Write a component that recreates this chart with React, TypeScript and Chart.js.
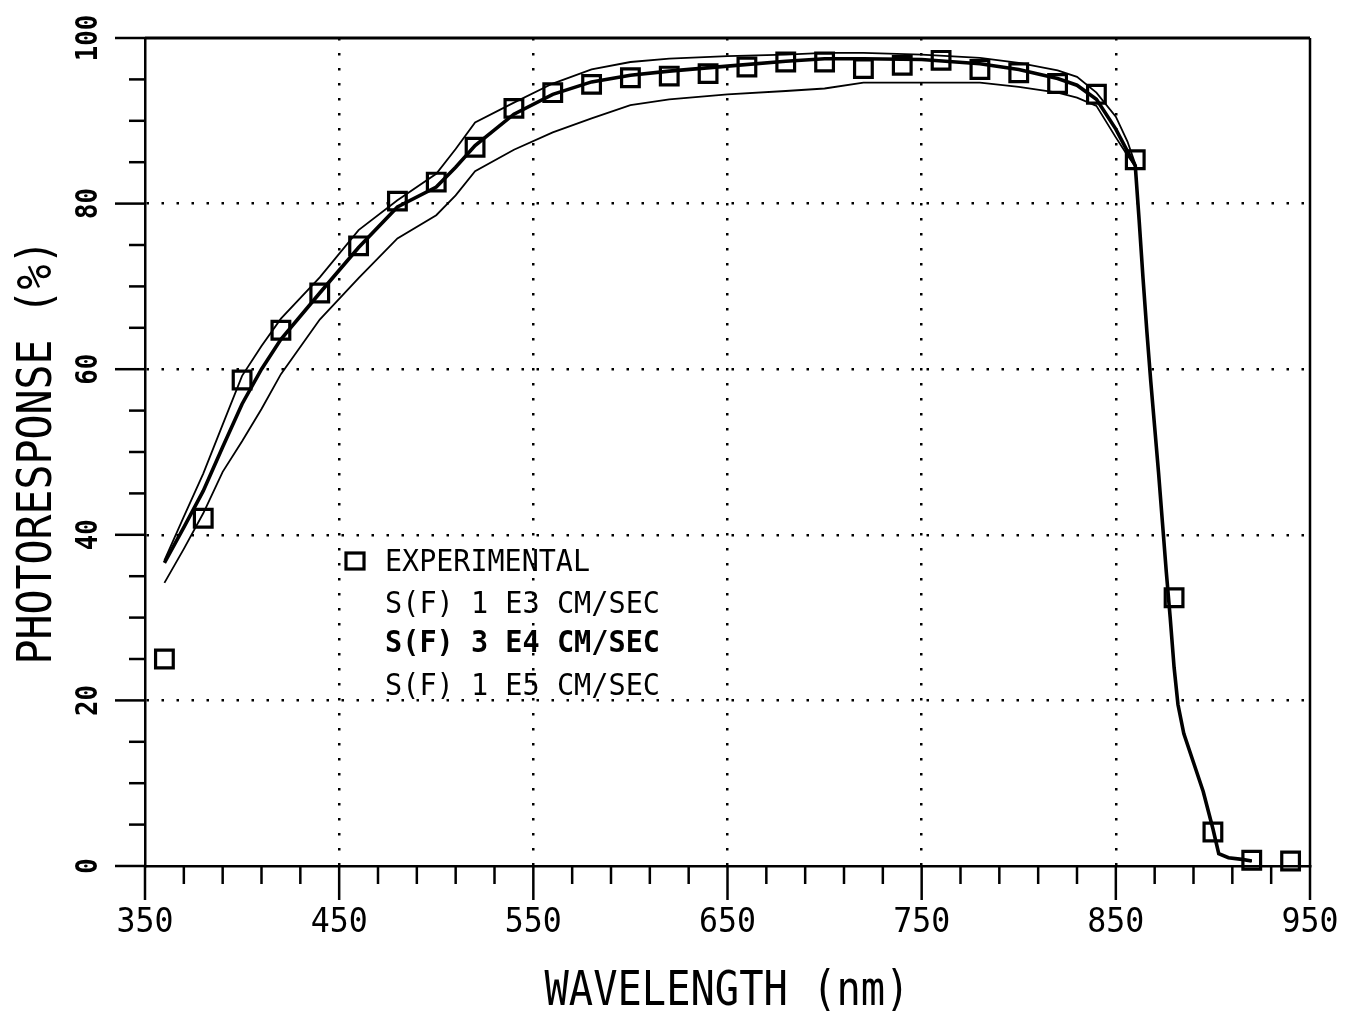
import React, { useEffect, useRef } from "react";
import { Chart, registerables } from "chart.js";

Chart.register(...registerables);

// ---- Data ----
const expWavelengths = [360, 380, 400, 420, 440, 460, 480, 500, 520, 540, 560, 580, 600, 620, 640, 660, 680, 700, 720, 740, 760, 780, 800, 820, 840, 860, 880, 900, 920, 940];
const expValues = [25.0, 42.0, 58.7, 64.7, 69.2, 74.9, 80.3, 82.6, 86.8, 91.5, 93.4, 94.4, 95.2, 95.4, 95.7, 96.5, 97.1, 97.1, 96.3, 96.7, 97.3, 96.2, 95.8, 94.5, 93.2, 85.3, 32.4, 4.1, 0.7, 0.6];

const lineWavelengths = [360, 370, 380, 390, 400, 410, 420, 440, 460, 480, 500, 510, 520, 540, 560, 580, 600, 620, 650, 680, 700, 720, 750, 780, 800, 820, 830, 840, 850, 856, 860];
const sf1e3Values = [36.9, 42.2, 47.4, 53.3, 59.2, 62.8, 66.1, 71.1, 76.8, 80.4, 83.6, 86.6, 89.8, 92.2, 94.5, 96.2, 97.1, 97.5, 97.8, 98.0, 98.2, 98.2, 98.0, 97.6, 97.0, 96.1, 95.3, 93.4, 90.5, 87.5, 84.8];
const sf3e4Values = [36.6, 40.9, 45.3, 50.6, 55.8, 60.0, 63.6, 69.2, 74.7, 79.6, 82.0, 84.4, 87.0, 90.8, 93.2, 94.7, 95.5, 96.0, 96.6, 97.2, 97.5, 97.5, 97.4, 96.9, 96.2, 95.1, 94.3, 92.6, 89.0, 86.3, 84.6];
const sf1e5Values = [34.2, 38.3, 42.6, 47.6, 51.3, 55.2, 59.4, 66.0, 71.0, 75.8, 78.6, 81.0, 83.9, 86.5, 88.6, 90.3, 91.9, 92.6, 93.2, 93.6, 93.9, 94.6, 94.6, 94.6, 94.1, 93.4, 92.8, 91.8, 88.0, 85.8, 84.5];

// common fall-off (all three curves coincide)
const cutoffWavelengths = [862, 864, 866, 868, 870, 872, 874, 876, 878, 880, 882, 885, 890, 895, 900, 903, 908, 915, 920];
const cutoffValues = [78, 71, 64.5, 58.5, 53, 47.5, 41.5, 35.5, 30, 24, 19.5, 16, 12.5, 9, 4.5, 1.5, 1.0, 0.8, 0.6];

const xTickValues = [350, 370, 390, 410, 430, 450, 470, 490, 510, 530, 550, 570, 590, 610, 630, 650, 670, 690, 710, 730, 750, 770, 790, 810, 830, 850, 870, 890, 910, 930, 950];
const xMajorValues = [350, 450, 550, 650, 750, 850, 950];
const xTickLabels = ["350", "450", "550", "650", "750", "850", "950"];
const xGridValues = [450, 550, 650, 750, 850];

const yTickValues = [0, 5, 10, 15, 20, 25, 30, 35, 40, 45, 50, 55, 60, 65, 70, 75, 80, 85, 90, 95, 100];
const yMajorValues = [0, 20, 40, 60, 80, 100];
const yTickLabels = ["0", "20", "40", "60", "80", "100"];
const yGridValues = [20, 40, 60, 80];

const legendLabels = ["EXPERIMENTAL", "S(F) 1 E3 CM/SEC", "S(F) 3 E4 CM/SEC", "S(F) 1 E5 CM/SEC"];
const xTitle = "WAVELENGTH (nm)";
const yTitle = "PHOTORESPONSE (%)";

const FONT = '"DejaVu Sans Mono", "Liberation Mono", monospace';

function curve(values: number[]) {
  const pts = lineWavelengths.map((x, i) => ({ x, y: values[i] }));
  return pts.concat(cutoffWavelengths.map((x, i) => ({ x, y: cutoffValues[i] })));
}

function drawLabel(
  ctx: CanvasRenderingContext2D,
  text: string,
  x: number,
  cy: number,
  cap: number,
  width: number,
  align: "left" | "center",
  rotate = false,
  bold = false
) {
  const size = cap / 0.73;
  ctx.save();
  ctx.font = `${bold ? "bold " : ""}${size}px ${FONT}`;
  const w = ctx.measureText(text).width;
  const sx = width / w;
  ctx.translate(x, cy);
  if (rotate) ctx.rotate(-Math.PI / 2);
  ctx.scale(sx, 1);
  ctx.textAlign = align;
  ctx.textBaseline = "alphabetic";
  ctx.fillStyle = "#000";
  ctx.fillText(text, 0, cap / 2);
  ctx.restore();
}

const decorPlugin = {
  id: "decor",
  afterDraw(chart: any) {
    const ctx: CanvasRenderingContext2D = chart.ctx;
    const xs = chart.scales.x;
    const ys = chart.scales.y;
    const { left, right, top, bottom } = chart.chartArea;
    ctx.save();
    ctx.strokeStyle = "#000";
    ctx.lineCap = "butt";
    // frame top / right
    ctx.lineWidth = 3;
    ctx.beginPath();
    ctx.moveTo(left, top);
    ctx.lineTo(right, top);
    ctx.stroke();
    ctx.lineWidth = 2.5;
    ctx.beginPath();
    ctx.moveTo(right, top);
    ctx.lineTo(right, bottom);
    ctx.stroke();

    // x ticks
    ctx.lineWidth = 2.5;
    xTickValues.forEach((v) => {
      const px = xs.getPixelForValue(v);
      const len = xMajorValues.includes(v) ? 34 : 18;
      ctx.beginPath();
      ctx.moveTo(px, bottom);
      ctx.lineTo(px, bottom + len);
      ctx.stroke();
    });
    // y ticks
    yTickValues.forEach((v) => {
      const py = ys.getPixelForValue(v);
      const len = yMajorValues.includes(v) ? 30 : 16;
      ctx.beginPath();
      ctx.moveTo(left - len, py);
      ctx.lineTo(left, py);
      ctx.stroke();
    });
    ctx.restore();

    // tick labels
    xMajorValues.forEach((v, i) => {
      drawLabel(ctx, xTickLabels[i], xs.getPixelForValue(v), 919, 25, 19 * xTickLabels[i].length, "center");
    });
    yMajorValues.forEach((v, i) => {
      drawLabel(ctx, yTickLabels[i], 86, ys.getPixelForValue(v), 22, 15.5 * yTickLabels[i].length, "center", true, true);
    });

    // axis titles
    drawLabel(ctx, xTitle, 727, 987, 35, 365, "center");
    drawLabel(ctx, yTitle, 33, 452, 35, 425, "center", true);

    // legend
    ctx.save();
    ctx.lineWidth = 3.2;
    ctx.strokeStyle = "#000";
    ctx.strokeRect(346, 553, 18, 16);
    ctx.restore();
    drawLabel(ctx, legendLabels[0], 385, 560, 22, 205, "left");
    drawLabel(ctx, legendLabels[1], 385, 602, 22, 275, "left");
    drawLabel(ctx, legendLabels[2], 385, 641, 22, 275, "left", false, true);
    drawLabel(ctx, legendLabels[3], 385, 684, 22, 275, "left");
  },
};

export default function App() {
  const ref = useRef<HTMLCanvasElement | null>(null);
  useEffect(() => {
    if (!ref.current) return;
    const chart = new Chart(ref.current, {
      type: "line",
      data: {
        datasets: [
          {
            label: legendLabels[1],
            data: curve(sf1e3Values),
            borderColor: "#000",
            borderWidth: 1.8,
            pointRadius: 0,
            tension: 0,
          },
          {
            label: legendLabels[2],
            data: curve(sf3e4Values),
            borderColor: "#000",
            borderWidth: 3.6,
            pointRadius: 0,
            tension: 0,
          },
          {
            label: legendLabels[3],
            data: curve(sf1e5Values),
            borderColor: "#000",
            borderWidth: 1.8,
            pointRadius: 0,
            tension: 0,
          },
          {
            label: legendLabels[0],
            data: expWavelengths.map((x, i) => ({ x, y: expValues[i] })),
            showLine: false,
            pointStyle: "rect",
            pointRadius: 12.5,
            pointBorderWidth: 3.2,
            pointBorderColor: "#000",
            pointBackgroundColor: "rgba(0,0,0,0)",
            clip: false,
          } as any,
        ],
      },
      options: {
        animation: false,
        responsive: true,
        maintainAspectRatio: false,
        layout: { padding: { top: 38, right: 50, left: 0, bottom: 0 } },
        plugins: { legend: { display: false }, tooltip: { enabled: false } },
        scales: {
          x: {
            type: "linear",
            min: 350,
            max: 950,
            afterFit: (s: any) => {
              s.height = 145;
            },
            ticks: { display: false, stepSize: 100 },
            grid: {
              drawTicks: false,
              lineWidth: 2.5,
              color: (c: any) => (c.tick && xGridValues.includes(c.tick.value) ? "#000" : "rgba(0,0,0,0)"),
            },
            border: { display: true, color: "#000", width: 2.5, dash: [2.5, 12.5] },
          },
          y: {
            type: "linear",
            min: 0,
            max: 100,
            afterFit: (s: any) => {
              s.width = 145;
            },
            ticks: { display: false, stepSize: 20 },
            grid: {
              drawTicks: false,
              lineWidth: 2.5,
              color: (c: any) => (c.tick && yGridValues.includes(c.tick.value) ? "#000" : "rgba(0,0,0,0)"),
            },
            border: { display: true, color: "#000", width: 2.5, dash: [2.5, 12.5] },
          },
        },
      },
      plugins: [decorPlugin],
    });
    return () => chart.destroy();
  }, []);
  return (
    <div style={{ position: "fixed", left: 0, top: 0, width: 1360, height: 1011, background: "#fff" }}>
      <canvas ref={ref} />
    </div>
  );
}
